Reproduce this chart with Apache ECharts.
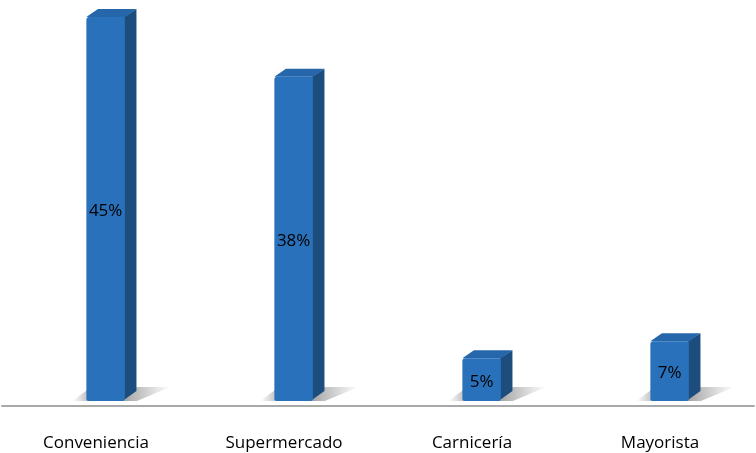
<!DOCTYPE html>
<html>
<head>
<meta charset="utf-8">
<script src="https://cdn.jsdelivr.net/npm/echarts@6/dist/echarts.min.js"></script>
<style>
  html, body { margin: 0; padding: 0; background: #ffffff; }
  #chart { width: 756px; height: 453px; }
</style>
</head>
<body>
<div id="chart"></div>
<script>
// Store types and the share of purchases for each (percent)
const categories = ['Conveniencia', 'Supermercado', 'Carnicería', 'Mayorista'];
const shares = [45, 38, 5, 7];

const FRONT = '#2a71bb';
const SIDE = '#1d4d7d';
const TOP = '#2667ab';
const FONT = '"Open Sans", Lato, sans-serif';

function renderBar(params, api) {
  const top = api.coord([api.value(0), api.value(1)]);
  const base = api.coord([api.value(0), 0]);
  const band = api.size([1, 0])[0];
  const bw = band * 0.205;
  const shift = bw * 0.25;
  const x0 = top[0] - bw / 2 + shift;
  const x1 = x0 + bw;
  const yt = top[1];
  const yb = base[1];
  const dx = bw * 0.3;
  const dy = 8;

  return {
    type: 'group',
    children: [
      // floor shadow to the right of the bar
      {
        type: 'polygon',
        shape: { points: [[x1 - 4, yb], [x1 + dx, yb - dy - 6], [x1 + dx + 34, yb - dy - 6], [x1 + 12, yb]] },
        style: {
          fill: new echarts.graphic.LinearGradient(0, 0, 1, 0, [
            { offset: 0, color: 'rgba(0,0,0,0.38)' },
            { offset: 1, color: 'rgba(0,0,0,0)' }
          ])
        },
        z2: 0
      },
      // floor shadow to the left of the bar
      {
        type: 'polygon',
        shape: { points: [[x0 - 14, yb], [x0 + 2, yb - 12], [x0 + 2, yb]] },
        style: {
          fill: new echarts.graphic.LinearGradient(0, 0, 1, 0, [
            { offset: 0, color: 'rgba(0,0,0,0)' },
            { offset: 1, color: 'rgba(0,0,0,0.25)' }
          ])
        },
        z2: 0
      },
      // side face
      {
        type: 'polygon',
        shape: { points: [[x1 - 1, yt], [x1 + dx, yt - dy], [x1 + dx, yb - dy - 2], [x1 - 1, yb - 1]] },
        style: { fill: SIDE },
        z2: 1
      },
      // top face
      {
        type: 'polygon',
        shape: { points: [[x0, yt], [x0 + dx, yt - dy], [x1 + dx, yt - dy], [x1, yt]] },
        style: { fill: TOP },
        z2: 1
      },
      // front face with value label
      {
        type: 'rect',
        shape: { x: x0, y: yt, width: bw, height: yb - yt, r: [3, 0, 2, 2] },
        style: { fill: FRONT },
        textContent: {
          style: {
            text: api.value(1) + '%',
            fill: '#000000',
            fontFamily: FONT,
            fontSize: 17
          }
        },
        textConfig: { position: 'inside', offset: [0, 2] },
        z2: 2
      }
    ]
  };
}

const chart = echarts.init(document.getElementById('chart'), null, { renderer: 'canvas' });
chart.setOption({
  animation: false,
  backgroundColor: '#ffffff',
  grid: { left: 2, right: 2, top: 17, bottom: 52, containLabel: false },
  xAxis: {
    type: 'category',
    data: categories,
    offset: 5,
    axisLine: { show: true, onZero: false, lineStyle: { color: '#a8a8a8', width: 2 } },
    axisTick: { show: false },
    axisLabel: {
      color: '#000000',
      fontFamily: FONT,
      fontSize: 17,
      margin: 29
    }
  },
  yAxis: {
    type: 'value',
    min: 0,
    max: 45,
    show: false,
    splitLine: { show: false }
  },
  series: [{
    type: 'custom',
    renderItem: renderBar,
    encode: { x: 0, y: 1 },
    data: categories.map((c, i) => [i, shares[i]])
  }]
});
</script>
</body>
</html>
